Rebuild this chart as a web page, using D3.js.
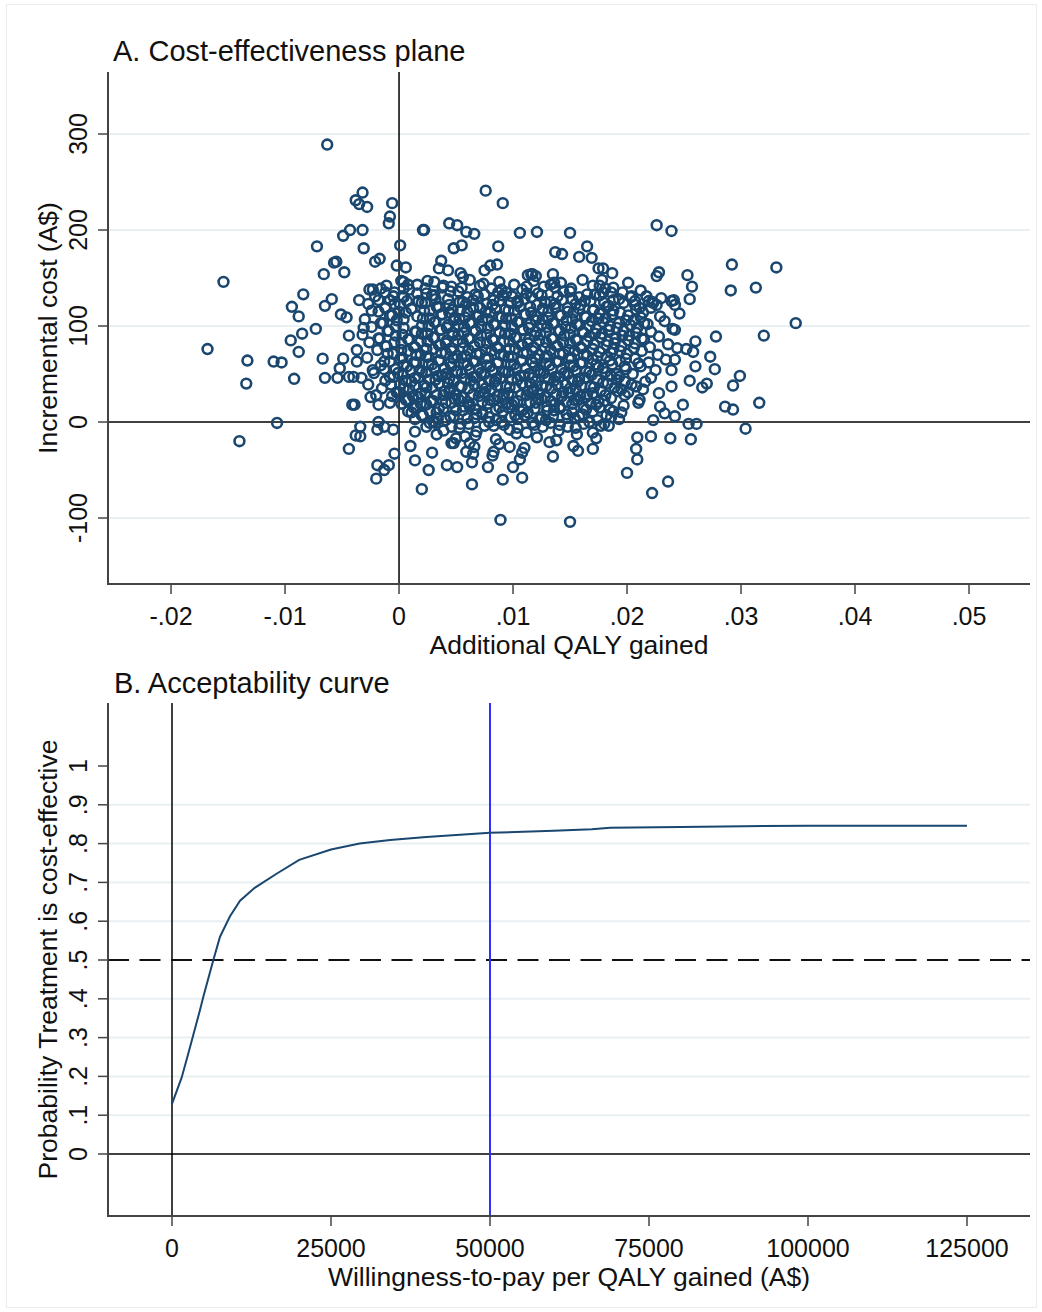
<!DOCTYPE html>
<html>
<head>
<meta charset="utf-8">
<script src="https://cdn.jsdelivr.net/npm/d3@7/dist/d3.min.js"></script>
<style>
  html, body { margin: 0; padding: 0; background: #fff; }
  svg { display: block; font-family: "Liberation Sans", Arial, sans-serif; }
</style>
</head>
<body>
<svg id="chart" width="1042" height="1312"></svg>
<script>
// ---------- Panel A: bootstrap replicates (QALY gained, incremental cost A$) ----------
const outerReplicates = [
  [-.0063,289],[-.0032,239],[-.0038,231],[-.0035,227],[-.0028,224],[-.0006,228],[-.0008,214],[-.0009,207],
  [-.0049,194],[-.0043,200],[-.0032,200],[.0021,200],[-.0072,183],[-.0031,181],[.0001,184],[-.0057,166],
  [-.0055,167],[-.0048,156],[-.0066,154],[-.0021,167],[-.0017,170],[-.0002,163],[.0006,161],[-.0154,146],
  [-.0084,133],[-.0094,120],[-.0088,110],[-.0059,128],[-.0065,121],[-.0051,112],[-.0046,109],[-.0035,127],
  [-.0026,138],[-.0023,138],[-.0011,142],[.0004,146],[.0004,139],[-.0005,131],[-.0024,116],[-.0073,97],
  [-.0085,92],[-.0095,85],[-.0168,76],[-.0088,73],[-.0133,64],[-.0110,63],[-.0103,62],[-.0067,66],
  [-.0049,66],[-.0044,90],[-.0031,98],[-.0037,75],[-.0134,40],[-.0107,-1],[-.0140,-20],[-.0092,45],
  [-.0065,46],[-.0054,46],[-.0052,56],[-.0044,47],[-.0041,18],[-.0039,18],[-.0034,-5],[-.0038,-14],
  [-.0034,-15],[-.0044,-28],[-.0018,0],[-.0019,-8],[-.0013,-5],[-.0005,-8],[-.0004,-33],[-.0019,-45],
  [-.0013,-50],[-.0009,-45],[-.0020,-59],[-.0037,63],[-.0040,47],[-.0033,46],[-.0027,39],[-.0023,54],
  [-.0025,26],[-.0020,28],[-.0018,18],[-.0008,20],
  [.0011,10],[.0014,-10],[.0010,-25],[.0014,-40],[.0029,-32],[.0026,-50],[.0020,-70],[.0042,-45],
  [.0051,-47],[.0064,-42],[.0064,-65],[.0078,-47],[.0091,-60],[.0108,-58],[.0089,-102],[.0030,0],
  [.0048,-22],[.0058,-15],[.0062,-22],[.0065,-33],[.0083,-31],[.0097,-26],[.0100,-47],[.0106,-39],
  [.0150,-104],[.0222,-74],[.0236,-62],[.0200,-53],[.0209,-39],[.0208,-28],[.0209,-16],[.0221,-15],
  [.0238,-17],[.0256,-18],[.0254,-2],[.0261,-2],[.0304,-7],[.0286,16],[.0293,13],[.0316,20],
  [.0293,38],[.0299,48],[.0266,36],[.0270,40],[.0255,43],[.0277,55],[.0273,68],[.0260,58],
  [.0258,73],[.0252,76],[.0278,89],[.0260,84],[.0244,77],[.0242,65],[.0239,54],[.0239,37],
  [.0348,103],[.0320,90],[.0242,96],[.0291,137],[.0313,140],[.0253,153],[.0257,141],[.0255,128],
  [.0241,127],[.0242,122],[.0239,126],[.0223,124],[.0217,131],[.0207,126],[.0226,152],[.0228,156],
  [.0249,18],[.0242,6],[.0229,16],[.0223,2],[.0233,9],[.0226,205],[.0239,199],[.0292,164],
  [.0331,161],[.0187,155],[.0179,160],[.0178,148],[.0179,135],
  [.0076,241],[.0091,228],[.0022,200],[.0044,207],[.0051,205],[.0059,198],[.0066,196],[.0106,197],
  [.0121,198],[.0150,197],[.0048,181],[.0055,184],[.0087,183],[.0165,183],[.0137,177],[.0143,175],
  [.0158,172],[.0169,171],[.0175,160],[.0037,168],[.0035,160],[.0043,158],[.0075,158],[.0080,163],
  [.0086,164],[.0025,147],[.0054,155],[.0056,151],[.0117,154],[.0120,152],[.0113,153],[.0116,154],
  [.0135,154],[.0136,145]
];

const coreReplicates = [
  [.0002,147],[.0016,143],[.0031,146],[.0046,141],[.0062,148],[.0071,142],[.0088,146],[.0101,143],[.0118,147],[.0127,141],[.0142,145],[.0161,148],[.0176,142],[.0201,145],
  [-.0016,139],[-.0004,135],[.0009,138],[.0024,134],[.0038,140],[.0052,136],[.0067,133],[.0081,139],[.0094,135],[.0108,138],[.0122,134],[.0137,140],[.0150,136],[.0165,133],[.0181,139],[.0196,135],[.0212,137],
  [-.0021,131],[-.0008,127],[.0004,130],[.0017,126],[.0029,132],[.0043,128],[.0056,125],[.0069,131],[.0083,127],[.0091,132],[.0104,126],[.0116,130],[.0128,125],[.0139,131],[.0152,128],[.0163,126],[.0176,132],[.0188,127],[.0203,130],[.0219,126],[.0230,129],
  [-.0027,123],[-.0012,119],[.0001,122],[.0011,118],[.0023,124],[.0035,120],[.0047,117],[.0059,123],[.0071,119],[.0082,122],[.0093,117],[.0104,124],[.0115,120],[.0126,118],[.0137,123],[.0148,119],[.0159,122],[.0171,117],[.0184,121],[.0197,124],[.0211,119],[.0226,122],
  [-.0018,115],[-.0006,111],[.0006,114],[.0016,110],[.0027,116],[.0038,112],[.0049,109],[.0060,115],[.0070,111],[.0080,114],[.0090,109],[.0101,116],[.0111,112],[.0121,110],[.0131,115],[.0142,111],[.0153,114],[.0164,109],[.0176,113],[.0188,116],[.0201,111],[.0214,114],[.0229,110],[.0246,113],
  [-.0030,107],[-.0014,103],[-.0002,106],[.0021,108],[.0032,104],[.0043,101],[.0053,107],[.0063,103],[.0073,106],[.0084,101],[.0094,108],[.0105,104],[.0115,102],[.0126,107],[.0136,103],[.0147,106],[.0158,101],[.0169,105],[.0181,108],[.0193,103],[.0206,106],[.0218,102],[.0233,105],
  [-.0024,99],[-.0009,95],[.0004,98],[.0015,94],[.0026,100],[.0037,96],[.0047,93],[.0057,99],[.0067,95],[.0078,98],[.0088,93],[.0099,100],[.0109,96],[.0120,94],[.0130,99],[.0141,95],[.0151,98],[.0162,93],[.0173,97],[.0185,100],[.0197,95],[.0209,98],[.0221,94],[.0240,97],
  [-.0032,91],[-.0017,87],[-.0003,90],[.0009,86],[.0020,92],[.0031,88],[.0042,85],[.0052,91],[.0062,87],[.0072,90],[.0083,85],[.0093,92],[.0103,88],[.0114,86],[.0124,91],[.0135,87],[.0145,90],[.0156,85],[.0167,89],[.0178,92],[.0190,87],[.0202,90],[.0215,86],[.0228,89],
  [-.0026,83],[-.0011,79],[.0002,82],[.0014,78],[.0025,84],[.0036,80],[.0046,77],[.0056,83],[.0066,79],[.0077,82],[.0087,77],[.0097,84],[.0108,80],[.0118,78],[.0129,83],[.0139,79],[.0150,82],[.0160,77],[.0171,81],[.0183,84],[.0195,79],[.0207,82],[.0220,78],[.0236,81],
  [-.0019,75],[-.0005,71],[.0008,74],[.0019,70],[.0030,76],[.0041,72],[.0051,69],[.0061,75],[.0071,71],[.0081,74],[.0092,69],[.0102,76],[.0112,72],[.0123,70],[.0133,75],[.0144,71],[.0154,74],[.0165,69],[.0176,73],[.0188,76],[.0200,71],[.0213,74],[.0227,70],
  [-.0028,67],[-.0013,63],[.0001,66],[.0013,62],[.0024,68],[.0035,64],[.0045,61],[.0055,67],[.0065,63],[.0076,66],[.0086,61],[.0096,68],[.0107,64],[.0117,62],[.0128,67],[.0138,63],[.0149,66],[.0159,61],[.0170,65],[.0182,68],[.0194,63],[.0207,66],[.0219,62],[.0234,65],
  [-.0016,59],[-.0003,55],[.0007,58],[.0018,54],[.0029,60],[.0040,56],[.0050,53],[.0060,59],[.0070,55],[.0080,58],[.0091,53],[.0101,60],[.0111,56],[.0122,54],[.0132,59],[.0143,55],[.0153,58],[.0164,53],[.0175,57],[.0187,60],[.0199,55],[.0212,58],[.0225,54],
  [-.0022,51],[-.0008,47],[.0003,50],[.0014,46],[.0024,52],[.0034,48],[.0044,45],[.0055,51],[.0065,47],[.0075,50],[.0085,45],[.0096,52],[.0106,48],[.0117,46],[.0127,51],[.0137,47],[.0148,50],[.0158,45],[.0169,49],[.0181,52],[.0193,47],[.0205,50],[.0221,46],
  [-.0012,43],[.0001,39],[.0011,42],[.0022,38],[.0032,44],[.0043,40],[.0053,37],[.0063,43],[.0073,39],[.0084,42],[.0094,37],[.0104,44],[.0115,40],[.0125,38],[.0136,43],[.0146,39],[.0157,42],[.0168,37],[.0179,41],[.0191,44],[.0204,39],[.0216,42],
  [-.0015,35],[-.0002,31],[.0009,34],[.0019,30],[.0029,36],[.0040,32],[.0050,29],[.0061,35],[.0071,31],[.0081,34],[.0092,29],[.0102,36],[.0113,32],[.0123,30],[.0134,35],[.0144,31],[.0155,34],[.0165,29],[.0177,33],[.0189,36],[.0201,31],[.0214,34],[.0228,30],
  [-.0006,27],[.0006,23],[.0017,26],[.0028,22],[.0039,28],[.0049,24],[.0060,21],[.0070,27],[.0080,23],[.0091,26],[.0101,21],[.0112,28],[.0122,24],[.0133,22],[.0143,27],[.0154,23],[.0164,26],[.0175,21],[.0186,25],[.0198,28],[.0211,23],
  [.0002,19],[.0013,15],[.0024,18],[.0035,14],[.0046,20],[.0057,16],[.0067,13],[.0078,19],[.0088,15],[.0099,18],[.0109,13],[.0120,20],[.0130,16],[.0141,14],[.0152,19],[.0162,15],[.0173,18],[.0185,13],[.0197,17],[.0210,20],
  [.0008,11],[.0021,7],[.0033,10],[.0045,6],[.0056,12],[.0068,8],[.0079,5],[.0091,11],[.0102,7],[.0113,10],[.0125,5],[.0136,12],[.0147,8],[.0158,6],[.0170,11],[.0182,7],[.0195,10],
  [.0014,3],[.0027,-1],[.0041,2],[.0054,-2],[.0066,4],[.0079,0],[.0092,-3],[.0104,3],[.0117,-1],[.0129,2],[.0141,-3],[.0154,4],[.0167,0],[.0180,-2],[.0193,3],
  [.0024,-5],[.0039,-9],[.0053,-6],[.0068,-10],[.0083,-4],[.0097,-8],[.0112,-11],[.0126,-5],[.0140,-9],[.0155,-6],[.0170,-11],[.0184,-4],
  [.0033,-13],[.0050,-17],[.0067,-14],[.0085,-18],[.0103,-12],[.0121,-16],[.0138,-19],[.0156,-13],[.0173,-17],
  [.0046,-22],[.0066,-26],[.0088,-23],[.0110,-27],[.0132,-21],[.0153,-25],[.0170,-28],
  [.0059,-31],[.0082,-35],[.0108,-32],[.0135,-36],[.0157,-30]
];

const denseReplicates = [
  [.0008,143],[.0023,139],[.0039,142],[.0055,140],[.0074,144],[.0090,138],[.0112,141],[.0133,143],[.0151,139],[.0170,142],[.0188,140],
  [-.0012,135],[.0003,131],[.0016,134],[.0031,132],[.0045,136],[.0060,130],[.0075,133],[.0087,135],[.0099,131],[.0112,134],[.0125,132],[.0144,136],[.0158,130],[.0172,133],[.0186,135],[.0204,131],
  [-.0018,127],[-.0004,123],[.0007,126],[.0020,124],[.0032,128],[.0044,122],[.0053,125],[.0065,127],[.0077,123],[.0088,126],[.0098,124],[.0110,128],[.0121,122],[.0133,125],[.0143,127],[.0155,123],[.0168,126],[.0180,124],[.0193,128],[.0207,122],[.0222,125],
  [-.0012,119],[.0000,115],[.0011,118],[.0022,116],[.0033,120],[.0044,114],[.0054,117],[.0065,119],[.0076,115],[.0085,118],[.0096,116],[.0106,120],[.0116,114],[.0126,117],[.0137,119],[.0148,115],[.0158,118],[.0170,116],[.0182,120],[.0194,114],[.0208,117],[.0221,119],
  [-.0008,111],[.0004,107],[.0027,108],[.0037,112],[.0048,106],[.0058,109],[.0068,111],[.0078,107],[.0088,110],[.0099,108],[.0110,112],[.0120,106],[.0131,109],[.0141,111],[.0152,107],[.0163,110],[.0175,108],[.0187,112],[.0199,106],[.0212,109],
  [-.0016,103],[-.0003,99],[.0020,100],[.0031,104],[.0042,98],[.0052,101],[.0062,103],[.0072,99],[.0083,102],[.0093,100],[.0104,104],[.0114,98],[.0125,101],[.0135,103],[.0146,99],[.0156,102],[.0167,100],[.0179,104],[.0191,98],[.0203,101],[.0215,103],
  [-.0010,95],[.0003,91],[.0014,94],[.0025,92],[.0036,96],[.0047,90],[.0057,93],[.0067,95],[.0077,91],[.0088,94],[.0098,92],[.0108,96],[.0119,90],[.0129,93],[.0140,95],[.0150,91],[.0161,94],[.0172,92],[.0184,96],[.0196,90],[.0208,93],
  [-.0018,87],[-.0004,83],[.0008,86],[.0019,84],[.0030,88],[.0041,82],[.0051,85],[.0061,87],[.0071,83],[.0082,86],[.0092,84],[.0102,88],[.0113,82],[.0123,85],[.0134,87],[.0144,83],[.0155,86],[.0165,84],[.0177,88],[.0189,82],[.0201,85],[.0213,87],
  [-.0012,79],[.0002,75],[.0013,78],[.0024,76],[.0035,80],[.0046,74],[.0056,77],[.0066,79],[.0076,75],[.0086,78],[.0097,76],[.0107,80],[.0117,74],[.0128,77],[.0138,79],[.0149,75],[.0159,78],[.0170,76],[.0182,80],[.0194,74],[.0206,77],
  [-.0010,71],[.0003,67],[.0015,70],[.0026,68],[.0037,72],[.0048,66],[.0058,69],[.0068,71],[.0078,67],[.0089,70],[.0099,68],[.0109,72],[.0120,66],[.0130,69],[.0141,71],[.0151,67],[.0162,70],[.0174,68],[.0186,72],[.0199,66],
  [-.0008,63],[.0004,59],[.0015,62],[.0026,60],[.0036,64],[.0046,58],[.0057,61],[.0067,63],[.0077,59],[.0087,62],[.0098,60],[.0108,64],[.0119,58],[.0129,61],[.0140,63],[.0150,59],[.0161,62],[.0173,60],[.0185,64],[.0198,58],[.0210,61],
  [-.0013,55],[-.0001,51],[.0010,54],[.0020,52],[.0031,56],[.0041,50],[.0051,53],[.0062,55],[.0072,51],[.0082,54],[.0093,52],[.0103,56],[.0114,50],[.0124,53],[.0134,55],[.0145,51],[.0155,54],[.0167,52],[.0179,56],[.0191,50],
  [-.0005,47],[.0006,43],[.0017,46],[.0027,44],[.0038,48],[.0048,42],[.0058,45],[.0068,47],[.0079,43],[.0089,46],[.0099,44],[.0110,48],[.0120,42],[.0131,45],[.0141,47],[.0152,43],[.0163,46],[.0174,44],[.0186,48],[.0198,42],
  [-.0007,39],[.0004,35],[.0014,38],[.0024,36],[.0035,40],[.0045,34],[.0055,37],[.0066,39],[.0076,35],[.0086,38],[.0097,36],[.0108,40],[.0118,34],[.0129,37],[.0139,39],[.0150,35],[.0160,38],[.0171,36],[.0183,40],[.0195,34],[.0208,37],
  [.0000,31],[.0012,27],[.0023,30],[.0033,28],[.0044,32],[.0055,26],[.0065,29],[.0075,31],[.0086,27],[.0096,30],[.0107,28],[.0117,32],[.0128,26],[.0138,29],[.0149,31],[.0159,27],[.0170,30],[.0181,28],[.0192,32],
  [.0008,23],[.0019,19],[.0030,22],[.0041,20],[.0052,24],[.0062,18],[.0073,21],[.0083,23],[.0094,19],[.0104,22],[.0115,20],[.0125,24],[.0136,18],[.0147,21],[.0157,23],[.0168,19],[.0180,22],
  [.0015,15],[.0027,11],[.0039,14],[.0050,12],[.0062,16],[.0073,10],[.0085,13],[.0096,15],[.0107,11],[.0119,14],[.0130,12],[.0141,16],[.0152,10],[.0164,13],[.0176,15],[.0188,11],
  [.0020,7],[.0034,3],[.0048,6],[.0060,4],[.0073,8],[.0085,2],[.0098,5],[.0110,7],[.0123,3],[.0135,6],[.0148,4],[.0161,8],[.0174,2],[.0186,5],
  [.0032,-1],[.0046,-5],[.0061,-2],[.0075,-4],[.0090,0],[.0104,-6],[.0119,-3],[.0133,-1],[.0148,-5],[.0162,-2],[.0177,-4]
];

const qalyTicks = [-0.02, -0.01, 0, 0.01, 0.02, 0.03, 0.04, 0.05];
const qalyTickLabels = ["-.02", "-.01", "0", ".01", ".02", ".03", ".04", ".05"];
const costTicks = [-100, 0, 100, 200, 300];
const costGrid = [-100, 100, 200, 300];

// ---------- Panel B: cost-effectiveness acceptability curve ----------
const wtpValues = [0, 1500, 2500, 4400, 5000, 6500, 7550, 9100, 10700, 13000, 16500, 20000, 25000, 29500, 34300, 40000, 50000, 60000, 66000, 68900, 80000, 90000, 100000, 125000];
const probCostEffective = [0.129, 0.196, 0.255, 0.371, 0.41, 0.5, 0.56, 0.612, 0.653, 0.686, 0.723, 0.758, 0.785, 0.80, 0.809, 0.817, 0.828, 0.833, 0.837, 0.841, 0.843, 0.845, 0.846, 0.846];
const wtpTicks = [0, 25000, 50000, 75000, 100000, 125000];
const probTicks = [0, 0.1, 0.2, 0.3, 0.4, 0.5, 0.6, 0.7, 0.8, 0.9, 1];
const probTickLabels = ["0", ".1", ".2", ".3", ".4", ".5", ".6", ".7", ".8", ".9", "1"];
const probGrid = [0.1, 0.2, 0.3, 0.4, 0.6, 0.7, 0.8, 0.9];
const thresholdWtp = 50000;

const navy = "#1a476f";
const gridColor = "#e8f0f2";
const axisColor = "#444";
const tickFont = 25;
const titleFont = 26.5;

const svg = d3.select("#chart");

// faint outer frame of the graph region
svg.append("rect").attr("x", 6.5).attr("y", 4.5).attr("width", 1030).attr("height", 1303)
  .attr("fill", "none").attr("stroke", "#ececec").attr("stroke-width", 1);

function drawAxes(g, x, y, xt, xtLabels, yt, ytLabels, xTitle, yTitle) {
  const [x0, x1] = x.range();
  const [y0, y1] = y.range();   // y0 bottom, y1 top
  g.append("line").attr("x1", x0).attr("x2", x0).attr("y1", y1).attr("y2", y0)
    .attr("stroke", axisColor).attr("stroke-width", 2);
  g.append("line").attr("x1", x0 - 1).attr("x2", x1).attr("y1", y0).attr("y2", y0)
    .attr("stroke", axisColor).attr("stroke-width", 2);
  yt.forEach((v, i) => {
    const py = y(v);
    g.append("line").attr("x1", x0 - 10).attr("x2", x0).attr("y1", py).attr("y2", py)
      .attr("stroke", axisColor).attr("stroke-width", 1.5);
    g.append("text").attr("transform", `translate(${x0 - 30},${py}) rotate(-90)`)
      .attr("text-anchor", "middle").attr("dominant-baseline", "central")
      .attr("font-size", tickFont).attr("fill", "#111").text(ytLabels[i]);
  });
  xt.forEach((v, i) => {
    const px = x(v);
    g.append("line").attr("x1", px).attr("x2", px).attr("y1", y0).attr("y2", y0 + 10)
      .attr("stroke", axisColor).attr("stroke-width", 1.5);
    g.append("text").attr("x", px).attr("y", y0 + 41)
      .attr("text-anchor", "middle").attr("font-size", tickFont).attr("fill", "#111").text(xtLabels[i]);
  });
  g.append("text").attr("x", (x0 + x1) / 2).attr("y", y0 + 70)
    .attr("text-anchor", "middle").attr("font-size", titleFont).attr("fill", "#111").text(xTitle);
  g.append("text").attr("transform", `translate(48,${(y0 + y1) / 2}) rotate(-90)`)
    .attr("text-anchor", "middle").attr("dominant-baseline", "central")
    .attr("font-size", titleFont).attr("fill", "#111").text(yTitle);
}

// ===== Panel A =====
{
  const x = d3.scaleLinear().domain([-0.02553, 0.05535]).range([108, 1030]);
  const y = d3.scaleLinear().domain([-168.75, 364.6]).range([584, 72]);
  const g = svg.append("g");

  g.selectAll(".gridA").data(costGrid).join("line")
    .attr("x1", 109).attr("x2", 1030).attr("y1", d => y(d)).attr("y2", d => y(d))
    .attr("stroke", gridColor).attr("stroke-width", 2);

  g.append("line").attr("x1", x(0)).attr("x2", x(0)).attr("y1", 72).attr("y2", 584)
    .attr("stroke", "#000").attr("stroke-width", 1.5);
  g.append("line").attr("x1", 108).attr("x2", 1030).attr("y1", y(0)).attr("y2", y(0))
    .attr("stroke", "#000").attr("stroke-width", 1.5);

  const allReplicates = outerReplicates.concat(coreReplicates, denseReplicates);
  g.selectAll(".rep").data(allReplicates).join("circle")
    .attr("cx", d => x(d[0])).attr("cy", d => y(d[1])).attr("r", 4.9)
    .attr("fill", "none").attr("stroke", navy).attr("stroke-width", 2.6);

  drawAxes(g, x, y, qalyTicks, qalyTickLabels, costTicks, costTicks.map(String),
    "Additional QALY gained", "Incremental cost (A$)");

  g.append("text").attr("x", 113).attr("y", 61).attr("font-size", 29).attr("fill", "#111")
    .text("A. Cost-effectiveness plane");
}

// ===== Panel B =====
{
  const x = d3.scaleLinear().domain([-10063, 134906]).range([108, 1030]);
  const y = d3.scaleLinear().domain([-0.1598, 1.1624]).range([1216, 703]);
  const g = svg.append("g");

  g.selectAll(".gridB").data(probGrid).join("line")
    .attr("x1", 109).attr("x2", 1030).attr("y1", d => y(d)).attr("y2", d => y(d))
    .attr("stroke", gridColor).attr("stroke-width", 2);

  g.append("line").attr("x1", x(0)).attr("x2", x(0)).attr("y1", 703).attr("y2", 1216)
    .attr("stroke", "#000").attr("stroke-width", 1.5);
  g.append("line").attr("x1", 108).attr("x2", 1030).attr("y1", y(0)).attr("y2", y(0))
    .attr("stroke", "#000").attr("stroke-width", 1.5);
  g.append("line").attr("x1", 108).attr("x2", 1030).attr("y1", y(0.5)).attr("y2", y(0.5))
    .attr("stroke", "#111").attr("stroke-width", 2).attr("stroke-dasharray", "21,10.5");
  g.append("line").attr("x1", x(thresholdWtp)).attr("x2", x(thresholdWtp)).attr("y1", 703).attr("y2", 1216)
    .attr("stroke", "#2f2fff").attr("stroke-width", 2);

  const curve = wtpValues.map((w, i) => [w, probCostEffective[i]]);
  g.append("path").datum(curve)
    .attr("d", d3.line().x(d => x(d[0])).y(d => y(d[1])))
    .attr("fill", "none").attr("stroke", navy).attr("stroke-width", 2);

  drawAxes(g, x, y, wtpTicks, wtpTicks.map(String), probTicks, probTickLabels,
    "Willingness-to-pay per QALY gained (A$)", "Probability Treatment is cost-effective");

  g.append("text").attr("x", 114).attr("y", 693).attr("font-size", 29).attr("fill", "#111")
    .text("B. Acceptability curve");
}
</script>
</body>
</html>
